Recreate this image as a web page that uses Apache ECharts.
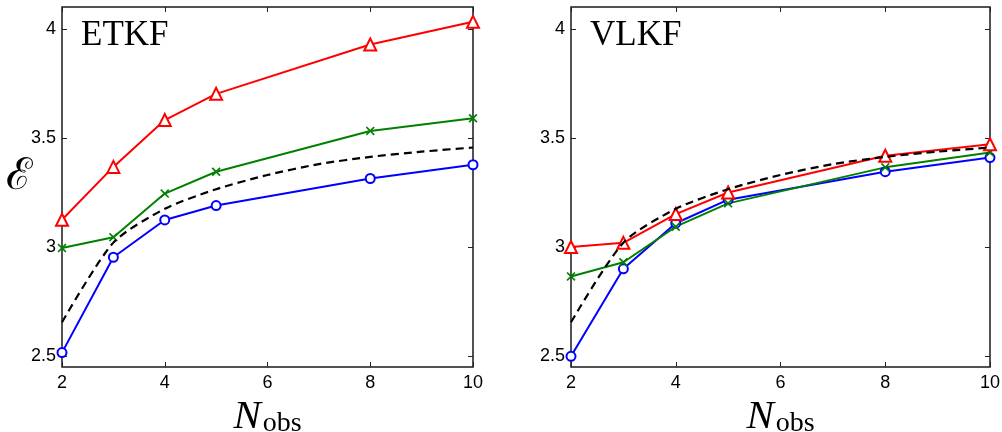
<!DOCTYPE html>
<html>
<head>
<meta charset="utf-8">
<script src="https://cdn.jsdelivr.net/npm/echarts@6/dist/echarts.min.js"></script>
<style>
  html, body { margin: 0; padding: 0; background: #fff; }
  #chart { width: 1002px; height: 432px; }
</style>
</head>
<body>
<div id="chart"></div>
<script>
// Number of observations at which each filter was evaluated
const nObs = [2, 3, 4, 5, 8, 10];
// Reference curve sampled at every integer N_obs
const refN = [2, 3, 4, 5, 6, 7, 8, 9, 10];
const refCurve = [2.655, 3.02, 3.175, 3.265, 3.33, 3.38, 3.413, 3.437, 3.456];

// ETKF panel
const etkfRed = [3.125, 3.367, 3.582, 3.702, 3.928, 4.032];
const etkfGreen = [2.995, 3.045, 3.245, 3.345, 3.532, 3.590];
const etkfBlue = [2.516, 2.953, 3.124, 3.190, 3.314, 3.377];

// VLKF panel
const vlkfRed = [3.000, 3.019, 3.151, 3.250, 3.418, 3.471];
const vlkfGreen = [2.865, 2.930, 3.093, 3.200, 3.365, 3.433];
const vlkfBlue = [2.499, 2.900, 3.109, 3.217, 3.345, 3.410];

// Tick labels
const xTicks = [2, 4, 6, 8, 10];
const yTicks = [2.5, 3, 3.5, 4];
const panelTitles = ['ETKF', 'VLKF'];

const pairs = (xs, ys) => xs.map((x, i) => [x, ys[i]]);

const tickFont = { fontFamily: 'Liberation Sans, Arial, sans-serif', fontSize: 18, color: '#000' };
const crossPath = 'path://M0,1.3 L1.3,0 L5,3.7 L8.7,0 L10,1.3 L6.3,5 L10,8.7 L8.7,10 L5,6.3 L1.3,10 L0,8.7 L3.7,5 Z';

const grids = [
  { left: 62, top: 7, width: 411, height: 360 },
  { left: 571, top: 7, width: 419, height: 360 }
];

const xAxes = [];
const yAxes = [];
grids.forEach((g, gi) => {
  // bottom axis with labels and the N_obs name
  xAxes.push({
    type: 'value', gridIndex: gi, min: 2, max: 10, interval: 2, position: 'bottom',
    axisLine: { show: false }, splitLine: { show: false },
    axisTick: { show: true, inside: true, length: 5, lineStyle: { color: '#222', width: 1 } },
    axisLabel: Object.assign({ margin: 7 }, tickFont),
    name: '{n|N}{s|obs}', nameLocation: 'middle', nameGap: 18,
    nameTextStyle: {
      rich: {
        n: { fontFamily: 'Liberation Serif, Times New Roman, serif', fontStyle: 'italic', fontSize: 41, color: '#000', lineHeight: 42, verticalAlign: 'bottom' },
        s: { fontFamily: 'Liberation Serif, Times New Roman, serif', fontSize: 28, color: '#000', lineHeight: 36, verticalAlign: 'bottom', padding: [0, 0, 0, 2] }
      }
    }
  });
  // mirrored top axis: ticks only
  xAxes.push({
    type: 'value', gridIndex: gi, min: 2, max: 10, interval: 2, position: 'top',
    axisLine: { show: false }, splitLine: { show: false }, axisLabel: { show: false },
    axisTick: { show: true, inside: true, length: 5, lineStyle: { color: '#222', width: 1 } }
  });
  yAxes.push({
    type: 'value', gridIndex: gi, min: 2.45, max: 4.1, position: 'left',
    axisLine: { show: false }, splitLine: { show: false },
    axisTick: { show: true, inside: true, length: 5, customValues: yTicks, lineStyle: { color: '#222', width: 1 } },
    axisLabel: Object.assign({ margin: 6, customValues: yTicks }, tickFont)
  });
  yAxes.push({
    type: 'value', gridIndex: gi, min: 2.45, max: 4.1, position: 'right',
    axisLine: { show: false }, splitLine: { show: false }, axisLabel: { show: false },
    axisTick: { show: true, inside: true, length: 5, customValues: yTicks, lineStyle: { color: '#222', width: 1 } }
  });
});

function markedLine(gi, ys, color, symbol, size) {
  return {
    type: 'line', xAxisIndex: gi * 2, yAxisIndex: gi * 2,
    data: pairs(nObs, ys), clip: false,
    symbol: symbol, symbolSize: size, showSymbol: true,
    lineStyle: { color: color, width: 2 },
    itemStyle: symbol.indexOf('path://') === 0
      ? { color: color, borderWidth: 0 }
      : { color: color, borderColor: color, borderWidth: 2.2 },
    emphasis: { disabled: true }, animation: false, z: 3
  };
}

function dashedRef(gi) {
  return {
    type: 'line', xAxisIndex: gi * 2, yAxisIndex: gi * 2,
    data: pairs(refN, refCurve), symbol: 'none', smooth: 0.25,
    lineStyle: { color: '#000', width: 2.2, type: [8, 5] },
    emphasis: { disabled: true }, animation: false, z: 4
  };
}

const series = [];
[[etkfBlue, etkfGreen, etkfRed], [vlkfBlue, vlkfGreen, vlkfRed]].forEach((set, gi) => {
  series.push(markedLine(gi, set[0], '#0000ff', 'emptyCircle', 9));
  series.push(markedLine(gi, set[1], '#008000', crossPath, 9));
  series.push(markedLine(gi, set[2], '#ff0000', 'emptyTriangle', 12));
  series.push(dashedRef(gi));
});

const chart = echarts.init(document.getElementById('chart'), null, { renderer: 'canvas' });
chart.setOption({
  backgroundColor: '#fff',
  animation: false,
  grid: grids.map(g => Object.assign({ show: true, borderColor: '#1a1a1a', borderWidth: 1.5, backgroundColor: 'transparent', containLabel: false, outerBoundsMode: 'none' }, g)),
  xAxis: xAxes,
  yAxis: yAxes,
  series: series,
  graphic: [
    { type: 'text', left: 81, top: 18, style: { text: panelTitles[0], fontFamily: 'Liberation Serif, Times New Roman, serif', fontSize: 35, fill: '#000' } },
    { type: 'text', left: 590, top: 18, style: { text: panelTitles[1], fontFamily: 'Liberation Serif, Times New Roman, serif', fontSize: 35, fill: '#000' } },
    { type: 'text', left: 6, top: 156, style: { text: '\u2130', fontFamily: 'DejaVu Serif, Liberation Serif, serif', fontSize: 44, fill: '#000' } }
  ]
});
</script>
</body>
</html>
